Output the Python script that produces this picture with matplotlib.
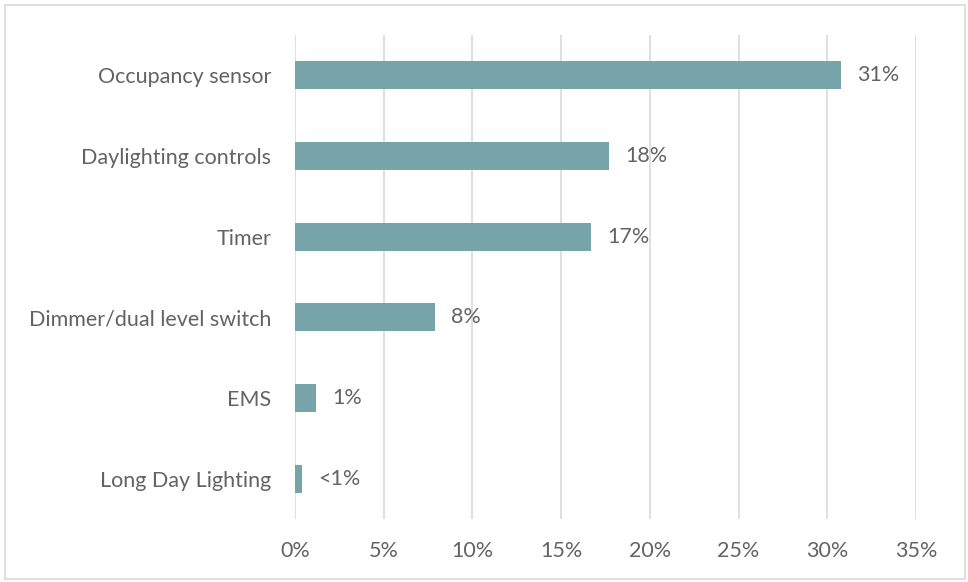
import matplotlib.pyplot as plt
from matplotlib.ticker import FuncFormatter, MultipleLocator
from matplotlib.patches import Rectangle

categories = ["Occupancy sensor", "Daylighting controls", "Timer",
              "Dimmer/dual level switch", "EMS", "Long Day Lighting"]
values = [30.8, 17.7, 16.7, 7.9, 1.2, 0.4]
labels = ["31%", "18%", "17%", "8%", "1%", "<1%"]

bar_color = "#76A4A8"
text_color = "#636363"
grid_color = "#D9D9D9"

plt.rcParams['font.family'] = ['Lato', 'DejaVu Sans']

fig = plt.figure(figsize=(9.68, 5.82), dpi=100)
ax = fig.add_axes([295 / 968, 1 - 519 / 582, (916 - 295) / 968, (519 - 35) / 582])

y = list(range(len(categories)))
ax.barh(y, values, height=0.35, color=bar_color, zorder=3)
for yi, v, lab in zip(y, values, labels):
    ax.text(v + 0.9, yi, lab, va='center', ha='left', fontsize=15.5, color=text_color)

ax.set_xlim(0, 35)
ax.set_ylim(len(categories) - 0.5, -0.5)
ax.xaxis.set_major_locator(MultipleLocator(5))
ax.xaxis.set_major_formatter(FuncFormatter(lambda x, _: f"{x:.0f}%"))
ax.set_yticks(y)
ax.set_yticklabels(categories)
ax.tick_params(axis='both', length=0, labelsize=15.5, labelcolor=text_color)
ax.tick_params(axis='x', pad=16)
ax.tick_params(axis='y', pad=17)
ax.grid(axis='x', color=grid_color, linewidth=1.2, zorder=0)
for s in ax.spines.values():
    s.set_visible(False)

# outer chart border
fig.patches.append(Rectangle((5 / 968, 3 / 582), 960 / 968, 574 / 582, transform=fig.transFigure,
                             fill=False, edgecolor=grid_color, linewidth=1.2))

fig.savefig("out.png", dpi=100)
